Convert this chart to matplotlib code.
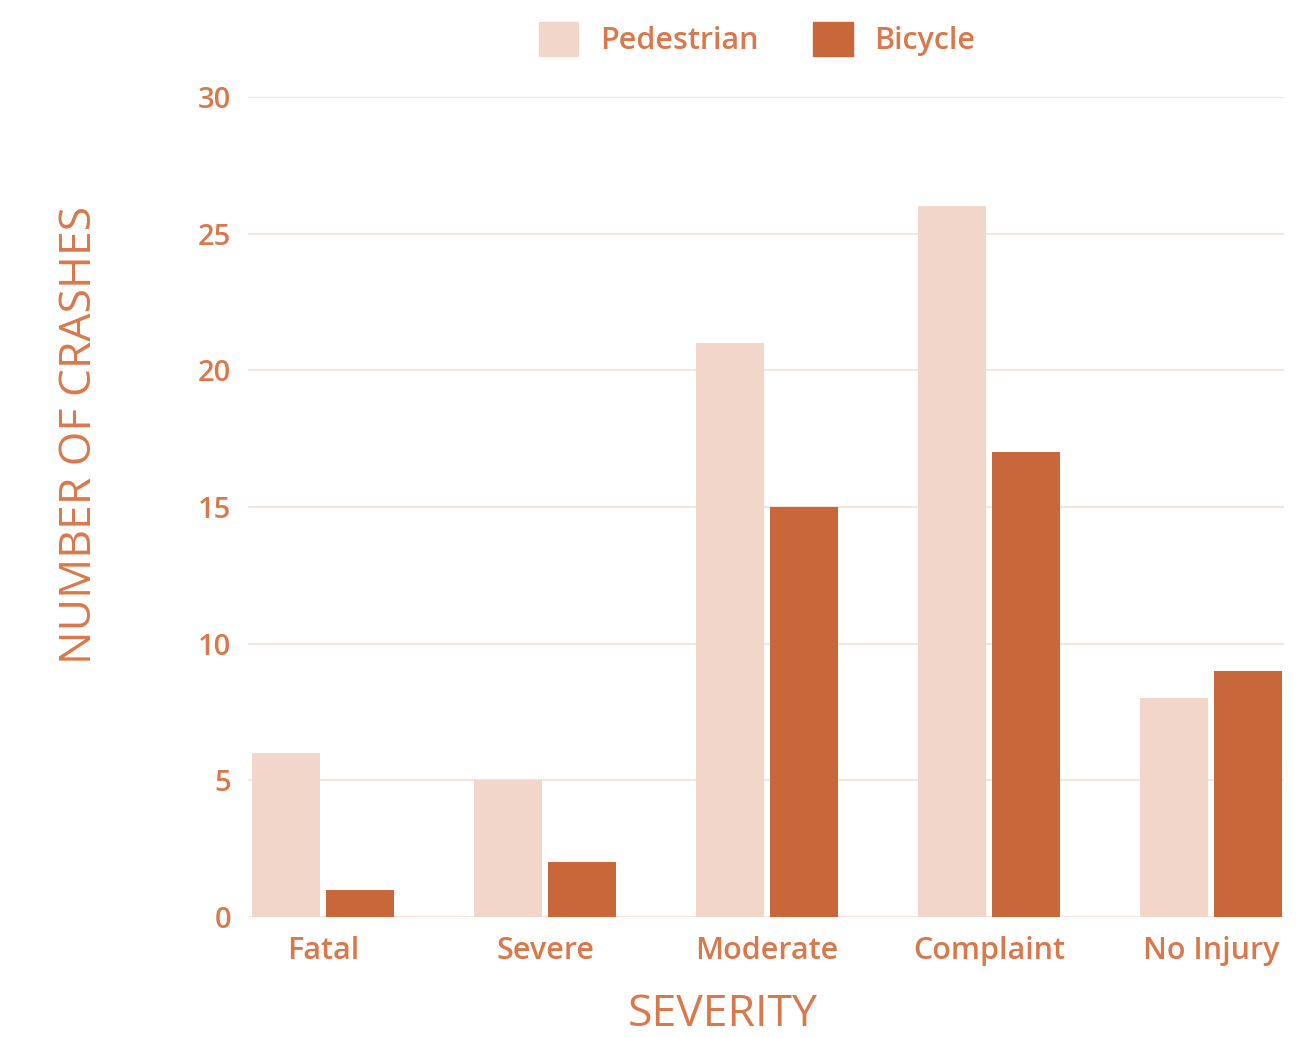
import numpy as np
import matplotlib.pyplot as plt
from matplotlib.patches import Patch

# Crash counts by severity
severity = ["Fatal", "Severe", "Moderate", "Complaint", "No Injury"]
pedestrian = [6, 5, 21, 26, 8]
bicycle = [1, 2, 15, 17, 9]
y_ticks = [0, 5, 10, 15, 20, 25, 30]

ped_color = "#F2D6CA"
bike_color = "#C8673A"
text_color = "#D9784B"
grid_color = "#F3E6E0"

plt.rcParams["font.family"] = ["Open Sans", "DejaVu Sans"]

fig = plt.figure(figsize=(13.12, 10.38), dpi=100)
ax = fig.add_axes([0.189, 0.1166, 0.790, 0.790])

x = np.arange(len(severity))
width = 0.306
offset = 0.1667
ax.bar(x - offset, pedestrian, width, color=ped_color, zorder=2)
ax.bar(x + offset, bicycle, width, color=bike_color, zorder=2)

ax.set_xlim(-0.338, 4.33)
ax.set_ylim(0, 30)
ax.set_yticks(y_ticks)
ax.set_xticks(x)
ax.set_xticklabels(severity)
ax.yaxis.grid(True, color=grid_color, linewidth=1.5, zorder=0)
ax.axhline(0, color="#EFC9B8", linewidth=2, zorder=1)

for s in ax.spines.values():
    s.set_visible(False)
ax.tick_params(axis="both", length=0, colors=text_color)
ax.tick_params(axis="x", labelsize=22, pad=14)
ax.tick_params(axis="y", labelsize=21, pad=12)
for lbl in ax.get_xticklabels() + ax.get_yticklabels():
    lbl.set_fontweight("semibold")

ax.set_xlabel("SEVERITY", color=text_color, fontsize=32)
ax.xaxis.set_label_coords((722 - 248) / 1036, -0.092)
ax.set_ylabel("NUMBER OF CRASHES", color=text_color, fontsize=32)
ax.yaxis.set_label_coords(-0.141, (1038 - 435 - 121) / 820)

handles = [Patch(color=ped_color, label="Pedestrian"),
           Patch(color=bike_color, label="Bicycle")]
leg = fig.legend(handles=handles, loc="upper center", bbox_to_anchor=(0.577, 1.005),
                 ncol=2, frameon=False, handlelength=1.3, handleheight=1.3,
                 columnspacing=1.8, handletextpad=0.7,
                 prop={"size": 22, "weight": "semibold"})
for t in leg.get_texts():
    t.set_color(text_color)

fig.savefig("out.png", dpi=100)
